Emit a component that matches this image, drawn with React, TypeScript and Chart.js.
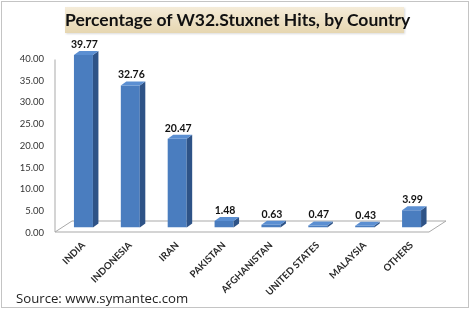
import React, { useEffect, useRef } from "react";
import { Chart, registerables } from "chart.js";

Chart.register(...registerables);

const categories = ["INDIA", "INDONESIA", "IRAN", "PAKISTAN", "AFGHANISTAN", "UNITED STATES", "MALAYSIA", "OTHERS"];
const hitPercent = [39.77, 32.76, 20.47, 1.48, 0.63, 0.47, 0.43, 3.99];
const yTicks = [0, 5, 10, 15, 20, 25, 30, 35, 40];
const titleText = "Percentage of W32.Stuxnet Hits, by Country";
const sourceText = "Source: www.symantec.com";

const FRONT = "#4a7dbf";
const SIDE = "#2e5387";
const TOP = "#5b8fd2";

const bar3d = {
  id: "bar3d",
  beforeDatasetsDraw(chart: any) {
    const { ctx, chartArea } = chart;
    const ys = chart.scales.y;
    const base = ys.getPixelForValue(0);
    const l = chartArea.left;
    const r = chartArea.right;
    ctx.save();
    ctx.strokeStyle = "#a9a9a9";
    ctx.lineWidth = 1;
    ctx.beginPath();
    ctx.moveTo(l - 5, base + 4.5);
    ctx.lineTo(l + 12, base - 6.5);
    ctx.lineTo(r + 11, base - 6.5);
    ctx.lineTo(r - 6, base + 4.5);
    ctx.closePath();
    ctx.stroke();
    ctx.beginPath();
    ctx.moveTo(l - 5, ys.getPixelForValue(40) + 5.5);
    ctx.lineTo(l - 5, base + 4.5);
    ctx.stroke();
    ctx.fillStyle = "#333";
    ctx.font = "9.5px Lato";
    ctx.textAlign = "right";
    ctx.textBaseline = "middle";
    yTicks.forEach((v) => {
      ctx.fillText(v.toFixed(2), l - 16, ys.getPixelForValue(v) + 5);
    });
    ctx.restore();
  },
  afterDatasetsDraw(chart: any) {
    const { ctx } = chart;
    const meta = chart.getDatasetMeta(0);
    const dx = 5.5;
    const dy = -4;
    ctx.save();
    meta.data.forEach((bar: any, i: number) => {
      const { x, y, base, width } = bar.getProps(["x", "y", "base", "width"], true);
      const left = x - width / 2;
      const right = x + width / 2;
      ctx.fillStyle = SIDE;
      ctx.beginPath();
      ctx.moveTo(right, y);
      ctx.lineTo(right + dx, y + dy);
      ctx.lineTo(right + dx, base + dy);
      ctx.lineTo(right, base);
      ctx.closePath();
      ctx.fill();
      ctx.fillStyle = TOP;
      ctx.beginPath();
      ctx.moveTo(left, y);
      ctx.lineTo(right, y);
      ctx.lineTo(right + dx, y + dy);
      ctx.lineTo(left + dx, y + dy);
      ctx.closePath();
      ctx.fill();
      ctx.fillStyle = "#111";
      ctx.font = "bold 10.5px Lato";
      ctx.textAlign = "center";
      ctx.textBaseline = "alphabetic";
      ctx.fillText(hitPercent[i].toFixed(2), x + 1, y - 7);
    });
    ctx.restore();
  },
};

export default function App() {
  const ref = useRef<HTMLCanvasElement>(null);
  useEffect(() => {
    const chart = new Chart(ref.current!, {
      type: "bar",
      data: {
        labels: categories,
        datasets: [
          {
            data: hitPercent,
            backgroundColor: FRONT,
            borderWidth: 0,
            barPercentage: 0.405,
            categoryPercentage: 1,
          },
        ],
      },
      options: {
        responsive: false,
        animation: false,
        devicePixelRatio: 1,
        layout: { padding: { top: 54, right: 35, left: 0, bottom: 0 } },
        plugins: { legend: { display: false }, tooltip: { enabled: false }, title: { display: false } },
        scales: {
          x: {
            grid: { display: false },
            border: { display: false },
            ticks: {
              minRotation: 45,
              maxRotation: 45,
              autoSkip: false,
              padding: 4,
              color: "#2a2a2a",
              font: { family: "Lato", size: 9.6, weight: "bold" },
            },
            afterFit(scale: any) {
              scale.height = 83.5;
            },
          },
          y: {
            min: 0,
            max: 40,
            grid: { display: false },
            border: { display: false },
            ticks: { display: false },
            afterFit(scale: any) {
              scale.width = 60;
            },
          },
        },
      },
      plugins: [bar3d],
    });
    return () => chart.destroy();
  }, []);

  return (
    <div style={{ position: "fixed", left: 0, top: 0, width: 470, height: 311, background: "#fff", overflow: "hidden" }}>
      <canvas ref={ref} width={470} height={311} style={{ position: "absolute", left: 0, top: 0 }} />
      <div
        style={{
          position: "absolute",
          left: 1,
          top: 1,
          width: 466,
          height: 305,
          border: "1px solid #c4c4c4",
          pointerEvents: "none",
        }}
      />
      <div
        style={{
          position: "absolute",
          left: 65,
          top: 7,
          width: 339,
          height: 26,
          background: "linear-gradient(#f5ecd9, #e6d6b0)",
          boxShadow: "1px 1px 2px rgba(0,0,0,0.15)",
          fontFamily: "Lato, sans-serif",
          fontWeight: 700,
          fontSize: 17.5,
          lineHeight: "26px",
          textAlign: "center",
          color: "#111",
          whiteSpace: "nowrap",
        }}
      >
        {titleText}
      </div>
      <div
        style={{
          position: "absolute",
          left: 16,
          top: 288,
          fontFamily: "'Open Sans', sans-serif",
          fontSize: 13.2,
          lineHeight: "20px",
          color: "#222",
          whiteSpace: "nowrap",
        }}
      >
        {sourceText}
      </div>
    </div>
  );
}
